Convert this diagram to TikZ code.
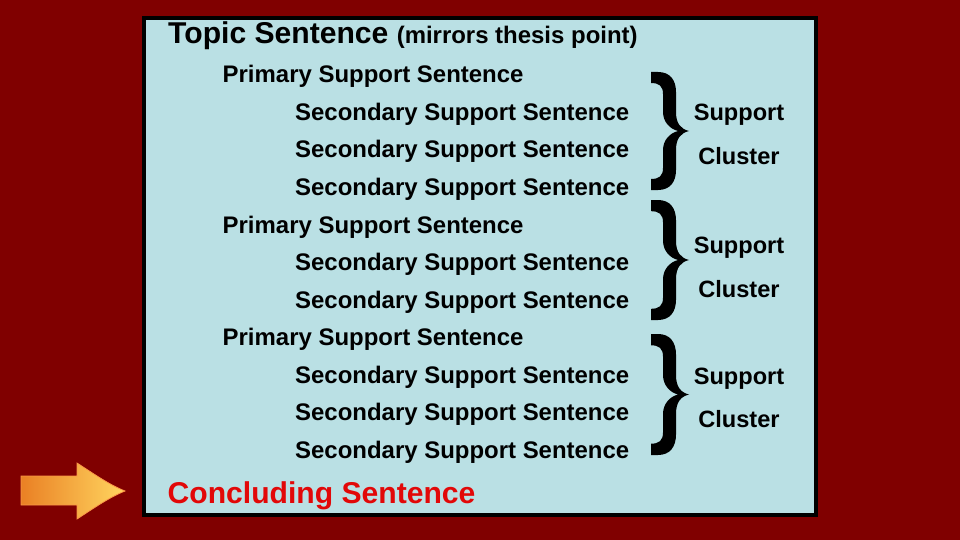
\documentclass[tikz,border=0pt]{standalone}
\usepackage{fontspec}
\setmainfont{Liberation Sans}
\definecolor{bgred}{RGB}{128,0,0}
\definecolor{boxblue}{RGB}{186,224,228}
\definecolor{conred}{RGB}{226,8,8}
\definecolor{arrowdark}{RGB}{234,128,36}
\definecolor{arrowlight}{RGB}{255,214,96}
\definecolor{arrowedge}{RGB}{250,150,70}
\tikzset{
  body/.style={anchor=base west,inner sep=0pt,font=\bfseries\fontsize{23.95}{28}\selectfont},
  big/.style={anchor=base west,inner sep=0pt,font=\bfseries\fontsize{30.1}{34}\selectfont},
  side/.style={anchor=base,inner sep=0pt,font=\bfseries\fontsize{23.6}{28}\selectfont}
}
\newcommand{\clusterbrace}[2]{%
  \begin{scope}[shift={(0,#1)},yscale=#2/118]
    \fill[black] (651,0) -- (658,0) .. controls (670,0) and (676,8) .. (676,20)
      -- (676,40) .. controls (676,52) and (681,57) .. (689,59)
      .. controls (681,61) and (676,66) .. (676,78)
      -- (676,98) .. controls (676,110) and (670,118) .. (658,118)
      -- (651,118) -- (651,107) .. controls (659,107) and (663,104) .. (663,96)
      -- (663,78) .. controls (663,68) and (670,61) .. (678,59)
      .. controls (670,57) and (663,50) .. (663,40)
      -- (663,22) .. controls (663,14) and (659,11) .. (651,11) -- cycle;
  \end{scope}}
\begin{document}
\begin{tikzpicture}[x=1pt,y=-1pt]
\useasboundingbox (0,0) rectangle (960,540);
\fill[bgred] (0,0) rectangle (960,540);
\draw[line width=4pt,fill=boxblue] (144,18) rectangle (816,515);
% arrow
\shade[left color=arrowdark,right color=arrowlight,draw=arrowedge,line width=0.8pt]
  (21,476) -- (77,476) -- (77,463) .. controls (97,476) and (110,485) .. (125,491)
  .. controls (110,497) and (97,506) .. (77,519) -- (77,505) -- (21,505) -- cycle;
% texts
\node[big] (topic) at (168,44) {Topic Sentence {\fontsize{23.95}{28}\selectfont(mirrors thesis point)}};
\node[body] (p1) at (222.5,83) {Primary Support Sentence};
\node[body] (s11) at (295,120.5) {Secondary Support Sentence};
\node[body] (s12) at (295,158) {Secondary Support Sentence};
\node[body] (s13) at (295,195.5) {Secondary Support Sentence};
\node[body] (p2) at (222.5,233) {Primary Support Sentence};
\node[body] (s21) at (295,270.5) {Secondary Support Sentence};
\node[body] (s22) at (295,308) {Secondary Support Sentence};
\node[body] (p3) at (222.5,345.5) {Primary Support Sentence};
\node[body] (s31) at (295,383) {Secondary Support Sentence};
\node[body] (s32) at (295,420.5) {Secondary Support Sentence};
\node[body] (s33) at (295,458) {Secondary Support Sentence};
\node[big,text=conred] (conc) at (167.5,503) {Concluding Sentence};
% braces
\clusterbrace{72}{118}
\clusterbrace{200}{120}
\clusterbrace{334}{121}
\node[side] (sup1) at (739,121) {Support};
\node[side] (cl1) at (739,164.5) {Cluster};
\node[side] (sup2) at (739,253) {Support};
\node[side] (cl2) at (739,297) {Cluster};
\node[side] (sup3) at (739,384) {Support};
\node[side] (cl3) at (739,427) {Cluster};
\end{tikzpicture}
\end{document}
